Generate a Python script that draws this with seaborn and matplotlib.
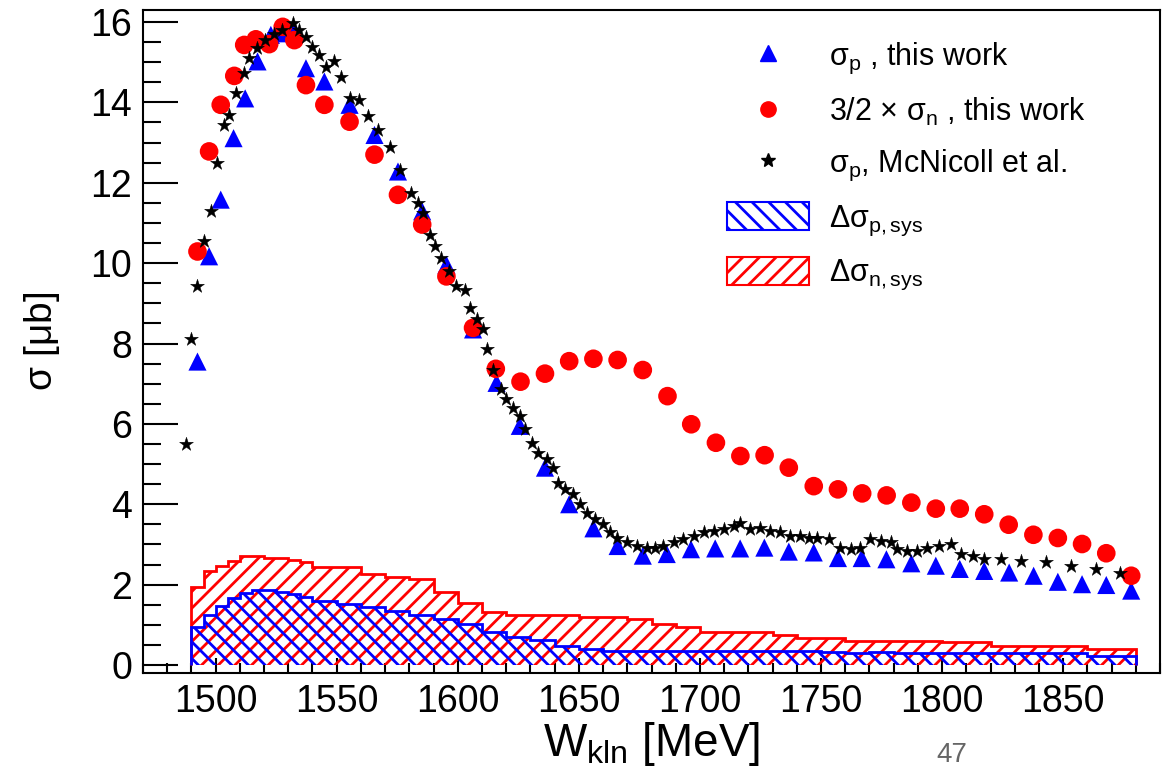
import numpy as np
import seaborn as sns
import matplotlib.pyplot as plt
from matplotlib.lines import Line2D
from matplotlib.patches import Patch
from matplotlib.ticker import MultipleLocator

# sigma_p, this work (blue triangles)
w_p = [1492.5, 1497.3, 1502.1, 1507.4, 1512.2, 1517.3, 1522.8, 1527.5, 1532.5, 1537.3,
       1544.9, 1555.3, 1565.6, 1575.3, 1585.3, 1595.3, 1606.3, 1616.0, 1625.6, 1636.0,
       1646.0, 1656.0, 1666.0, 1676.4, 1686.3, 1696.3, 1706.3, 1716.6, 1726.6, 1736.7,
       1747.0, 1757.0, 1766.8, 1777.0, 1787.3, 1797.4, 1807.3, 1817.4, 1827.7, 1837.8,
       1847.8, 1857.8, 1867.8, 1878.1]
sig_p = [7.55, 10.17, 11.58, 13.11, 14.10, 15.02, 15.68, 15.72, 15.78, 14.85,
         14.52, 13.94, 13.19, 12.28, 11.29, 9.96, 8.35, 7.02, 5.95, 4.91,
         4.00, 3.40, 2.96, 2.72, 2.76, 2.88, 2.90, 2.90, 2.92, 2.82,
         2.80, 2.66, 2.66, 2.63, 2.53, 2.47, 2.39, 2.34, 2.30, 2.22,
         2.07, 2.01, 1.99, 1.85]

# 3/2 x sigma_n, this work (red circles)
w_n = [1492.5, 1497.3, 1502.1, 1507.7, 1511.8, 1516.6, 1522.1, 1527.7, 1532.5, 1537.3,
       1544.9, 1555.3, 1565.6, 1575.3, 1585.3, 1595.3, 1606.3, 1615.7, 1625.9, 1636.0,
       1646.0, 1656.0, 1666.0, 1676.4, 1686.6, 1696.4, 1706.6, 1716.7, 1726.7, 1736.7,
       1747.0, 1757.0, 1767.0, 1777.1, 1787.3, 1797.4, 1807.3, 1817.4, 1827.5, 1837.7,
       1847.8, 1857.8, 1867.8, 1878.1]
sig_n = [10.29, 12.78, 13.94, 14.66, 15.43, 15.57, 15.45, 15.88, 15.55, 14.43,
         13.94, 13.52, 12.70, 11.70, 10.96, 9.67, 8.39, 7.37, 7.05, 7.25,
         7.56, 7.62, 7.59, 7.34, 6.69, 5.99, 5.53, 5.20, 5.22, 4.91,
         4.45, 4.37, 4.27, 4.22, 4.04, 3.89, 3.89, 3.75, 3.49, 3.24,
         3.16, 3.01, 2.78, 2.22]

# sigma_p, McNicoll et al. (black stars)
w_mc = [1487.8, 1489.7, 1492.5, 1495.2, 1498.0, 1500.5, 1503.5, 1505.6, 1508.3, 1511.8,
        1513.9, 1517.0, 1520.5, 1524.0, 1527.5, 1531.8, 1534.5, 1537.3, 1540.0, 1542.8,
        1545.6, 1549.0, 1551.8, 1555.3, 1559.4, 1562.8, 1567.0, 1571.8, 1576.0, 1580.8,
        1583.5, 1585.6, 1588.4, 1590.4, 1593.2, 1596.5, 1599.4, 1602.8, 1604.9, 1608.0,
        1610.5, 1612.2, 1614.6, 1618.0, 1620.1, 1622.8, 1625.6, 1627.7, 1630.5, 1633.2,
        1636.7, 1639.4, 1641.5, 1644.3, 1647.7, 1650.5, 1653.2, 1656.7, 1660.1, 1662.9,
        1665.6, 1669.8, 1673.9, 1678.1, 1681.5, 1684.9, 1689.1, 1693.2, 1697.4, 1701.5,
        1705.6, 1709.8, 1713.9, 1716.7, 1720.8, 1724.9, 1729.1, 1733.2, 1737.3, 1741.5,
        1744.9, 1748.4, 1753.2, 1758.0, 1762.2, 1766.3, 1770.4, 1774.6, 1778.7, 1781.5,
        1785.6, 1789.8, 1793.9, 1798.7, 1803.6, 1807.7, 1812.6, 1817.4, 1824.3, 1832.6,
        1842.9, 1853.2, 1863.6, 1873.3]
sig_mc = [5.49, 8.10, 9.42, 10.54, 11.29, 12.49, 13.44, 13.69, 14.23, 14.72,
          15.10, 15.35, 15.55, 15.70, 15.80, 15.97, 15.80, 15.64, 15.39, 15.18,
          14.89, 15.02, 14.64, 14.10, 14.06, 13.65, 13.32, 12.90, 12.32, 11.74,
          11.49, 11.25, 10.71, 10.42, 10.13, 9.80, 9.42, 9.34, 8.89, 8.60,
          8.35, 7.86, 7.35, 6.86, 6.61, 6.40, 6.19, 5.86, 5.53, 5.28,
          5.12, 4.91, 4.54, 4.37, 4.25, 4.00, 3.79, 3.63, 3.50, 3.30,
          3.17, 3.05, 2.96, 2.92, 2.90, 2.96, 3.05, 3.13, 3.21, 3.30,
          3.34, 3.38, 3.46, 3.53, 3.38, 3.42, 3.34, 3.30, 3.21, 3.21,
          3.17, 3.17, 3.13, 2.92, 2.88, 2.92, 3.13, 3.09, 3.05, 2.88,
          2.84, 2.84, 2.92, 2.96, 3.00, 2.76, 2.72, 2.63, 2.63, 2.59,
          2.57, 2.47, 2.40, 2.30]

# systematic error histograms
sys_edges = [1490, 1495, 1500, 1505, 1510, 1515, 1520, 1525, 1530, 1535, 1540,
             1550, 1560, 1570, 1580, 1590, 1600, 1610, 1620, 1630, 1640,
             1650, 1660, 1670, 1680, 1690, 1700, 1710, 1720, 1730, 1740,
             1750, 1760, 1770, 1780, 1790, 1800, 1810, 1820, 1830, 1840,
             1850, 1860, 1870, 1880]
sys_n = [1.95, 2.34, 2.47, 2.59, 2.72, 2.72, 2.66, 2.66, 2.61, 2.55,
         2.44, 2.44, 2.26, 2.19, 2.14, 1.81, 1.53, 1.32, 1.24, 1.24,
         1.24, 1.20, 1.20, 1.14, 1.02, 0.95, 0.83, 0.83, 0.83, 0.74,
         0.68, 0.67, 0.60, 0.60, 0.60, 0.60, 0.56, 0.56, 0.48, 0.48,
         0.48, 0.48, 0.40, 0.40]
sys_p = [0.95, 1.25, 1.47, 1.66, 1.78, 1.87, 1.87, 1.82, 1.76, 1.68,
         1.58, 1.52, 1.45, 1.35, 1.25, 1.14, 1.02, 0.81, 0.70, 0.63,
         0.46, 0.40, 0.34, 0.34, 0.34, 0.34, 0.34, 0.34, 0.34, 0.34,
         0.34, 0.33, 0.30, 0.32, 0.29, 0.29, 0.29, 0.29, 0.29, 0.29,
         0.29, 0.29, 0.23, 0.23]

sns.set_theme(style='ticks')
plt.rcParams['font.family'] = ['Liberation Sans', 'DejaVu Sans']
plt.rcParams['mathtext.fontset'] = 'custom'
plt.rcParams['mathtext.rm'] = 'Liberation Sans'
plt.rcParams['mathtext.it'] = 'Liberation Sans'
plt.rcParams['mathtext.default'] = 'regular'
plt.rcParams['hatch.linewidth'] = 2.0
plt.rcParams['text.color'] = 'black'
plt.rcParams['axes.labelcolor'] = 'black'

fig = plt.figure(figsize=(11.74, 7.68), dpi=100)
ax = fig.add_axes([0.1218, 0.1237, 0.8663, 0.8633])

# hatched systematic bands
ax.stairs(sys_n, sys_edges, fill=True, facecolor='none', edgecolor='red',
          linewidth=0, hatch='//', zorder=1)
ax.stairs(sys_p, sys_edges, fill=True, facecolor='none', edgecolor='blue',
          linewidth=0, hatch='\\\\', zorder=1.1)
ax.stairs(sys_n, sys_edges, color='red', linewidth=2, zorder=1.2)
ax.stairs(sys_p, sys_edges, color='blue', linewidth=2, zorder=1.3)

sns.scatterplot(x=w_p, y=sig_p, marker='^', color='blue', s=170,
                edgecolor='none', ax=ax, zorder=3)
sns.scatterplot(x=w_n, y=sig_n, marker='o', color='red', s=180,
                edgecolor='none', ax=ax, zorder=4)
sns.scatterplot(x=w_mc, y=sig_mc, marker='*', color='black', s=110,
                edgecolor='black', linewidth=0.3, ax=ax, zorder=5)

ax.set_xlim(1470, 1890)
ax.set_ylim(-0.2, 16.3)
ax.xaxis.set_major_locator(MultipleLocator(50))
ax.xaxis.set_minor_locator(MultipleLocator(10))
ax.yaxis.set_major_locator(MultipleLocator(2))
ax.yaxis.set_minor_locator(MultipleLocator(0.5))
ax.tick_params(axis='both', which='both', direction='in', colors='black',
               labelsize=27, width=1.5)
ax.tick_params(axis='y', which='major', length=25, pad=8)
ax.tick_params(axis='y', which='minor', length=13)
ax.tick_params(axis='x', which='major', length=11, pad=8)
ax.tick_params(axis='x', which='minor', length=7)
for sp in ax.spines.values():
    sp.set_linewidth(1.5)
    sp.set_color('black')

ax.set_xlabel(r'$W_{kln}$ [MeV]', fontsize=33, labelpad=0)
ax.set_ylabel(r'$\sigma$ [$\mu$b]', fontsize=28, labelpad=20)

handles = [
    Line2D([], [], linestyle='none', marker='^', color='blue', markersize=11),
    Line2D([], [], linestyle='none', marker='o', color='red', markersize=11),
    Line2D([], [], linestyle='none', marker='*', color='black', markersize=10),
    Patch(facecolor='none', edgecolor='blue', hatch='\\\\', linewidth=1.5),
    Patch(facecolor='none', edgecolor='red', hatch='//', linewidth=1.5),
]
labels = [r'$\sigma_p$ , this work', r'3/2 $\times$ $\sigma_n$ , this work',
          r'$\sigma_p$, McNicoll et al.', r'$\Delta\sigma_{p,sys}$',
          r'$\Delta\sigma_{n,sys}$']
ax.legend(handles, labels, loc='upper left', bbox_to_anchor=(0.574, 0.953),
          frameon=False, fontsize=22, handlelength=2.7, handleheight=1.0,
          handletextpad=0.65, labelspacing=0.64, borderpad=0, borderaxespad=0)

fig.text(0.811, 0.0, '47', fontsize=20, color='#666666', ha='center',
         va='bottom')

fig.savefig('out.png', dpi=100)
